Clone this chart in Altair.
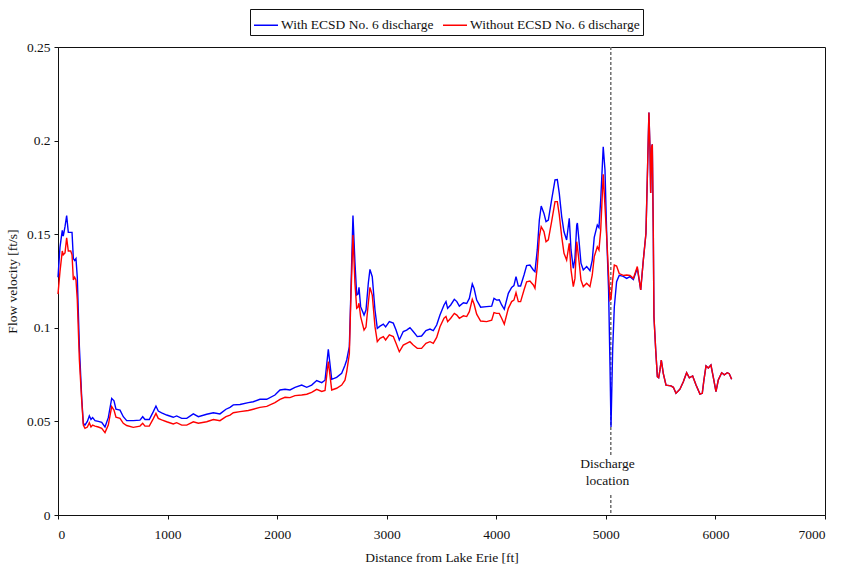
import altair as alt
import pandas as pd

# Distance from Lake Erie [ft]
distance = [
    0, 18, 39, 48, 64, 79, 94, 116, 128, 140, 152, 164, 176, 195, 216, 231, 246, 268, 286, 301,
    316, 338, 368, 399, 429, 459, 490, 511, 529, 566, 596, 627, 687, 748, 773, 794, 833, 870, 894, 915,
    946, 992, 1052, 1083, 1129, 1175, 1235, 1281, 1357, 1418, 1478, 1533, 1570, 1600, 1661, 1737, 1782, 1843, 1905, 1980,
    2026, 2072, 2117, 2163, 2224, 2270, 2315, 2361, 2407, 2437, 2467, 2498, 2543, 2589, 2619, 2635, 2659, 2671, 2692, 2710,
    2726, 2738, 2747, 2762, 2793, 2811, 2832, 2847, 2868, 2893, 2914, 2939, 2969, 2990, 3024, 3060, 3085, 3115, 3151, 3182,
    3212, 3242, 3279, 3318, 3358, 3395, 3425, 3456, 3486, 3523, 3541, 3556, 3584, 3617, 3640, 3663, 3700, 3730, 3754, 3781,
    3797, 3821, 3857, 3912, 3958, 3979, 4003, 4027, 4049, 4073, 4110, 4140, 4161, 4180, 4201, 4222, 4253, 4277, 4307, 4338,
    4353, 4374, 4393, 4410, 4435, 4454, 4475, 4505, 4536, 4557, 4575, 4597, 4618, 4642, 4666, 4682, 4703, 4718, 4734, 4740,
    4757, 4773, 4794, 4825, 4855, 4876, 4894, 4922, 4937, 4953, 4976, 4992, 5010, 5025, 5038, 5047, 5062, 5077, 5098, 5122,
    5159, 5190, 5220, 5251, 5287, 5318, 5342, 5366, 5381, 5393, 5403, 5409, 5418, 5424, 5433, 5439, 5455, 5470, 5482, 5494,
    5506, 5524, 5549, 5594, 5616, 5640, 5676, 5707, 5737, 5762, 5792, 5823, 5859, 5880, 5895, 5914, 5935, 5959, 5980, 6005,
    6026, 6057, 6081, 6108, 6126, 6148,
]

# Flow velocity [ft/s] with the ECSD No. 6 discharge
with_discharge = [
    0.127, 0.143, 0.152, 0.149, 0.154, 0.160, 0.151, 0.151, 0.151, 0.137, 0.136, 0.137, 0.127, 0.090, 0.063, 0.049, 0.048, 0.050, 0.053, 0.051,
    0.052, 0.0504, 0.050, 0.0495, 0.047, 0.052, 0.0623, 0.061, 0.0565, 0.056, 0.0525, 0.0504, 0.0504, 0.0507, 0.0525, 0.051, 0.051, 0.0552, 0.0582, 0.0555,
    0.0546, 0.0534, 0.0522, 0.0529, 0.0516, 0.0516, 0.054, 0.0525, 0.0538, 0.0546, 0.054, 0.0565, 0.0575, 0.0588, 0.059, 0.060, 0.0605, 0.0618, 0.0618, 0.0641,
    0.0668, 0.0672, 0.0668, 0.0682, 0.0694, 0.0682, 0.0694, 0.0718, 0.0707, 0.072, 0.0885, 0.0725, 0.0735, 0.0757, 0.080, 0.0828, 0.090, 0.115, 0.160, 0.135,
    0.1175, 0.118, 0.1216, 0.1113, 0.1068, 0.1095, 0.1238, 0.1312, 0.1273, 0.1095, 0.0997, 0.1009, 0.102, 0.1005, 0.1033, 0.1025, 0.0988, 0.0935, 0.098, 0.0988,
    0.1001, 0.098, 0.0953, 0.0956, 0.0985, 0.0993, 0.0985, 0.1015, 0.1068, 0.1122, 0.114, 0.1104, 0.1122, 0.1152, 0.114, 0.1116, 0.1134, 0.113, 0.1157, 0.1234,
    0.1211, 0.1148, 0.111, 0.1113, 0.1116, 0.1157, 0.1148, 0.1150, 0.1122, 0.1099, 0.1184, 0.1216, 0.1225, 0.1273, 0.1223, 0.1223, 0.1282, 0.1332, 0.1335, 0.1309,
    0.130, 0.1416, 0.1576, 0.165, 0.1611, 0.1567, 0.1575, 0.1683, 0.179, 0.1792, 0.1718, 0.1594, 0.1513, 0.1469, 0.1585, 0.1416, 0.1318, 0.1371, 0.1549, 0.156,
    0.1451, 0.1345, 0.1309, 0.1327, 0.1305, 0.1362, 0.1483, 0.1549, 0.1535, 0.1683, 0.1967, 0.1843, 0.145, 0.120, 0.079, 0.047, 0.088, 0.111, 0.1246, 0.128,
    0.1275, 0.1264, 0.1273, 0.1258, 0.1318, 0.1202, 0.1362, 0.1505, 0.186, 0.2150, 0.195, 0.172, 0.1967, 0.198, 0.1505, 0.1059, 0.0881, 0.0739, 0.0733, 0.0775,
    0.0828, 0.0757, 0.0694, 0.069, 0.0682, 0.065, 0.0672, 0.0712, 0.076, 0.0733, 0.0743, 0.0694, 0.0646, 0.065, 0.0721, 0.0796, 0.0785, 0.0801, 0.0738, 0.0659,
    0.0721, 0.076, 0.0749, 0.076, 0.0755, 0.0725,
]

# Flow velocity [ft/s] without the ECSD No. 6 discharge
without_discharge = [
    0.118, 0.130, 0.141, 0.139, 0.140, 0.148, 0.141, 0.141, 0.139, 0.1255, 0.127, 0.1255, 0.115, 0.083, 0.0615, 0.048, 0.0463, 0.047, 0.0493, 0.047,
    0.048, 0.0475, 0.047, 0.0463, 0.044, 0.048, 0.0579, 0.0561, 0.0522, 0.0516, 0.049, 0.0478, 0.0468, 0.0475, 0.049, 0.0475, 0.0475, 0.0515, 0.0543, 0.0516,
    0.0508, 0.0498, 0.0486, 0.0493, 0.048, 0.048, 0.0498, 0.049, 0.0498, 0.051, 0.0504, 0.0525, 0.0534, 0.0546, 0.0552, 0.0558, 0.0565, 0.0575, 0.058, 0.060,
    0.0618, 0.0629, 0.0627, 0.0638, 0.0641, 0.0645, 0.0655, 0.0671, 0.066, 0.0665, 0.082, 0.0668, 0.0677, 0.0694, 0.072, 0.0766, 0.086, 0.112, 0.1496, 0.1238,
    0.1104, 0.1110, 0.1131, 0.106, 0.0988, 0.1004, 0.1131, 0.1216, 0.1175, 0.1006, 0.0926, 0.0944, 0.0953, 0.0935, 0.0962, 0.0953, 0.0917, 0.0872, 0.0908, 0.0917,
    0.0926, 0.0908, 0.089, 0.089, 0.0917, 0.0926, 0.0917, 0.0949, 0.1006, 0.1051, 0.106, 0.1033, 0.1051, 0.1077, 0.1068, 0.1051, 0.1064, 0.106, 0.1086, 0.1152,
    0.1127, 0.1073, 0.1036, 0.1033, 0.1041, 0.1081, 0.1077, 0.1077, 0.1051, 0.102, 0.1104, 0.114, 0.1148, 0.1188, 0.114, 0.114, 0.1202, 0.1246, 0.125, 0.1229,
    0.1211, 0.1327, 0.1487, 0.1540, 0.1514, 0.146, 0.147, 0.1567, 0.1674, 0.1674, 0.1603, 0.1487, 0.1398, 0.1362, 0.1451, 0.1309, 0.122, 0.1264, 0.146, 0.1434,
    0.1345, 0.1255, 0.122, 0.1238, 0.122, 0.1282, 0.138, 0.1433, 0.1416, 0.1522, 0.182, 0.165, 0.146, 0.128, 0.1148, 0.1155, 0.1255, 0.1335, 0.1330, 0.129,
    0.128, 0.1282, 0.128, 0.1264, 0.1327, 0.1202, 0.1362, 0.1505, 0.186, 0.2150, 0.195, 0.172, 0.1967, 0.198, 0.1505, 0.1059, 0.0881, 0.0739, 0.0733, 0.0775,
    0.0828, 0.0757, 0.0694, 0.069, 0.0682, 0.065, 0.0672, 0.0712, 0.076, 0.0733, 0.0743, 0.0694, 0.0646, 0.065, 0.0721, 0.0796, 0.0785, 0.0801, 0.0738, 0.0659,
    0.0721, 0.076, 0.0749, 0.076, 0.0755, 0.0725,
]

series_names = ["With ECSD No. 6 discharge", "Without ECSD No. 6 discharge"]
series_colors = ["#0000ff", "#ff0000"]

x_ticks = [0, 1000, 2000, 3000, 4000, 5000, 6000, 7000]
y_ticks = [0, 0.05, 0.1, 0.15, 0.2, 0.25]

# Discharge location marker (ft) and its label
discharge_x = 5045
label_x = 5015
label_y = 0.031
marker_upper = [0.25, 0.032]
marker_lower = [0.0107, 0.0]

FONT = "Liberation Serif"
FS = 13.5

rows = []
for d, a, b in zip(distance, with_discharge, without_discharge):
    rows.append({"distance": d, "velocity": a, "series": series_names[0], "order": 0})
    rows.append({"distance": d, "velocity": b, "series": series_names[1], "order": 1})
df = pd.DataFrame(rows)

x_scale = alt.Scale(domain=[0, 7000], nice=False)
y_scale = alt.Scale(domain=[0, 0.25], nice=False)

lines = alt.Chart(df).mark_line(strokeWidth=1.4, interpolate="linear").encode(
    x=alt.X("distance:Q", scale=x_scale,
            axis=alt.Axis(values=x_ticks, format="d", title="Distance from Lake Erie [ft]",
                          titlePadding=10, labelPadding=8)),
    y=alt.Y("velocity:Q", scale=y_scale,
            axis=alt.Axis(values=y_ticks, format="~g", title="Flow velocity [ft/s]",
                          titlePadding=7, labelPadding=4)),
    color=alt.Color("series:N",
                    scale=alt.Scale(domain=series_names, range=series_colors),
                    legend=alt.Legend(title=None, orient="none", direction="horizontal",
                                      legendX=192, legendY=-38,
                                      symbolType="stroke", symbolSize=576, symbolStrokeWidth=1.5,
                                      labelFont=FONT, labelFontSize=FS, labelColor="#111",
                                      labelLimit=400, labelOffset=2, columnPadding=6, padding=3,
                                      strokeColor="#111", fillColor="white")),
    detail="order:N",
    order=alt.Order("order:Q"),
)

marker_df = pd.DataFrame({
    "x": [discharge_x, discharge_x],
    "y": [marker_upper[0], marker_lower[0]],
    "y2": [marker_upper[1], marker_lower[1]],
})
marker = alt.Chart(marker_df).mark_rule(color="#6e6e6e", strokeWidth=1.5, strokeDash=[3, 2]).encode(
    x=alt.X("x:Q", scale=x_scale),
    y=alt.Y("y:Q", scale=y_scale),
    y2="y2:Q",
)

label = alt.Chart(pd.DataFrame({"x": [label_x], "y": [label_y]})).mark_text(
    text=["Discharge", "location"], font=FONT, fontSize=FS, color="#111",
    align="center", baseline="top", lineHeight=17,
).encode(
    x=alt.X("x:Q", scale=x_scale),
    y=alt.Y("y:Q", scale=y_scale),
)

chart = alt.layer(marker, lines, label).properties(
    width=767, height=468,
    autosize=alt.AutoSizeParams(type="none"),
    padding={"left": 58, "top": 47, "right": 18, "bottom": 51},
).configure_view(
    stroke="#111", strokeWidth=1,
).configure_axis(
    grid=False, domainColor="#111", tickColor="#111", tickSize=4,
    labelFont=FONT, labelFontSize=FS, labelColor="#111",
    titleFont=FONT, titleFontSize=FS, titleFontWeight="normal", titleColor="#111",
)

chart.save("out.html", embed_options={"renderer": "svg", "actions": False})
